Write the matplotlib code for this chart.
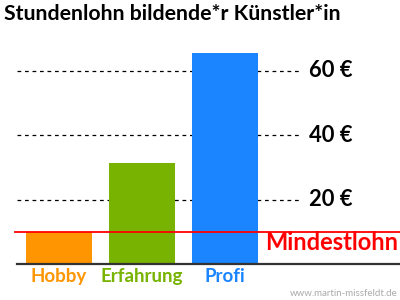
import matplotlib.pyplot as plt

categories = ["Hobby", "Erfahrung", "Profi"]
values = [9.9, 31.3, 65.4]
colors = ["#FF9500", "#77B300", "#1B85FF"]
grid_vals = [20, 40, 60]
grid_labels = ["20 €", "40 €", "60 €"]
mindestlohn = 9.9

plt.rcParams['font.family'] = ['Lato', 'DejaVu Sans']

fig = plt.figure(figsize=(4, 3), dpi=100)
ax = fig.add_axes([0, 0, 1, 1])
ax.set_xlim(-0.711, 4.108)
ax.set_ylim(-11.16, 81.86)
ax.axis('off')

x = list(range(len(categories)))
ax.bar(x, values, width=0.795, color=colors, zorder=2)

# gestrichelte Hilfslinien + Beschriftung
for v, lab in zip(grid_vals, grid_labels):
    ax.plot([-0.51, 2.9], [v, v], color='black', lw=0.9,
            linestyle=(0, (3, 3)), zorder=1)
    ax.text(3.01, v, lab, fontsize=15.8, fontweight='bold',
            ha='left', va='center')

# Grundlinie
ax.plot([-0.51, 4.2], [0, 0], color='#333333', lw=1.6, zorder=3)

# Mindestlohn
ax.plot([-0.53, 4.2], [mindestlohn, mindestlohn], color='#FF0000', lw=1.3, zorder=3)
ax.text(4.09, mindestlohn - 3.1, "Mindestlohn", color='#FF0000', fontsize=17,
        fontweight='bold', ha='right', va='center')

for xi, cat, c in zip(x, categories, colors):
    ax.text(xi, -4.0, cat, color=c, fontsize=13.5, fontweight='bold',
            ha='center', va='center')

fig.text(0.01, 0.955, "Stundenlohn bildende*r Künstler*in", fontsize=15.3,
         fontweight='bold', ha='left', va='center')
fig.text(0.995, 0.022, "www.martin-missfeldt.de", fontsize=7, color='#AAAAAA',
         ha='right', va='center')

fig.savefig("out.png", dpi=100)
